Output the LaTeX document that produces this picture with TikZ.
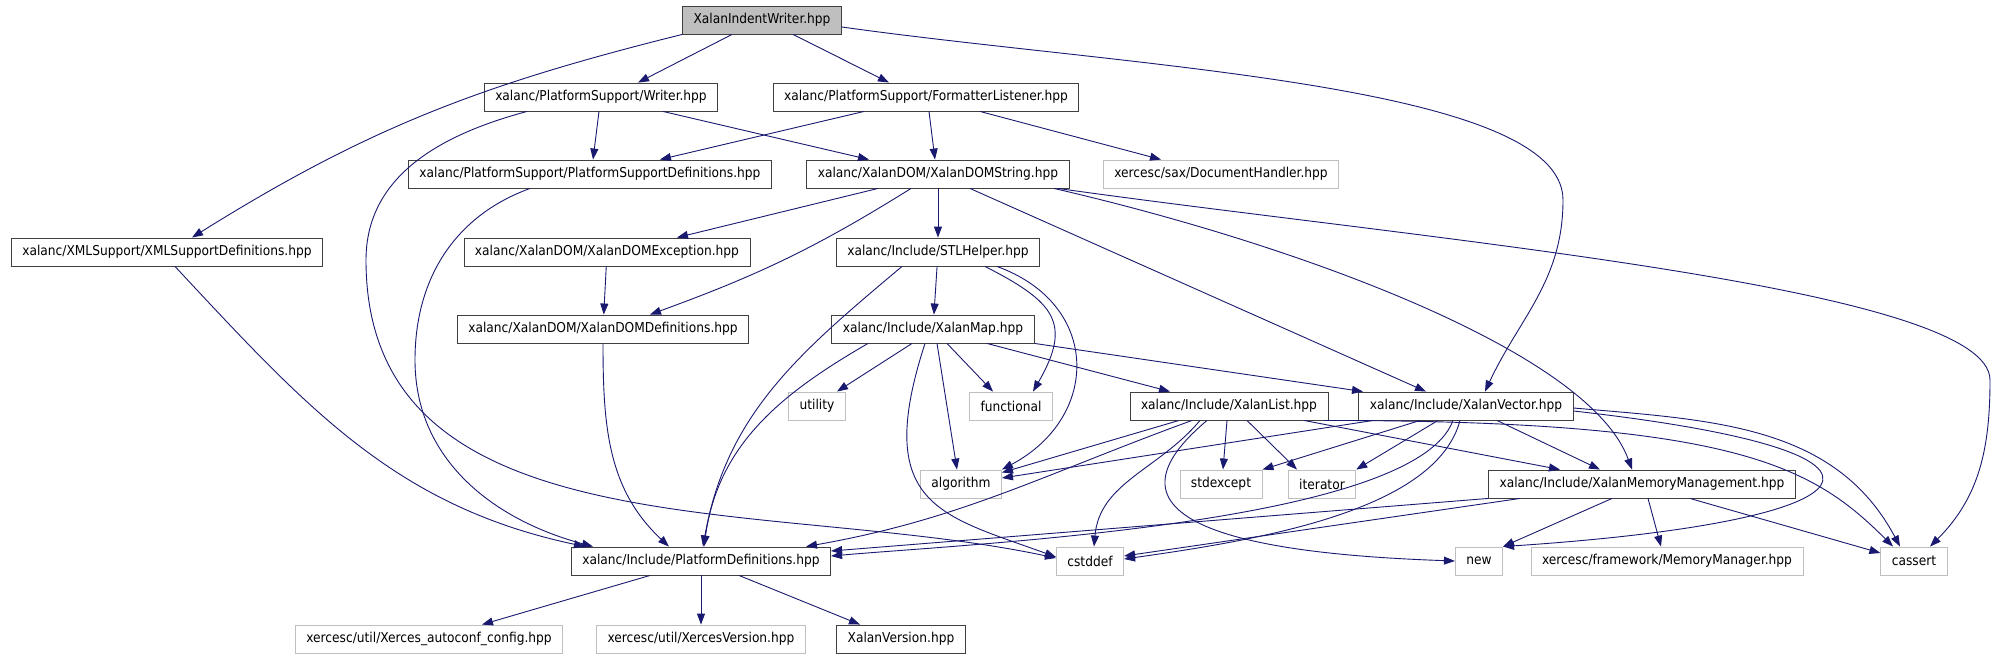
\documentclass[tikz,border=0pt]{standalone}
\usepackage{fontspec}
\setmainfont{DejaVu Sans Condensed}
\usepackage{xcolor}
\usepackage{tikz}
\usetikzlibrary{arrows.meta}
\definecolor{edgeblue}{HTML}{191970}
\definecolor{extgray}{HTML}{BFBFBF}
\definecolor{rootfill}{HTML}{BFBFBF}
\tikzset{
  filebox/.style={
    draw=black!75,
    line width=0.9pt,
    fill=white,
    font=\fontsize{13.6}{15}\selectfont,
    inner xsep=11pt,
    inner ysep=0pt,
    minimum height=28pt
  },
  extbox/.style={filebox, draw=extgray},
  rootbox/.style={filebox, fill=rootfill},
  incedge/.style={line width=0.9pt, draw=edgeblue, -{Triangle[length=11pt,width=8pt]}}
}

\begin{document}
\begin{tikzpicture}[x=1pt,y=-1pt]
\useasboundingbox (0,0) rectangle (1995,659);
\fill[white] (0,0) rectangle (1995,659);

\node[rootbox] (iw) at (762,20) {XalanIndentWriter.hpp};
\node[filebox] (writer) at (601,97) {xalanc/PlatformSupport/Writer.hpp};
\node[filebox] (fmtlisten) at (926,97) {xalanc/PlatformSupport/FormatterListener.hpp};
\node[filebox] (psdefs) at (590,174) {xalanc/PlatformSupport/PlatformSupportDefinitions.hpp};
\node[filebox] (domstring) at (938,174) {xalanc/XalanDOM/XalanDOMString.hpp};
\node[extbox] (dochandler) at (1221,174) {xercesc/sax/DocumentHandler.hpp};
\node[filebox] (xmlsdefs) at (167,252) {xalanc/XMLSupport/XMLSupportDefinitions.hpp};
\node[filebox] (domexcept) at (607,252) {xalanc/XalanDOM/XalanDOMException.hpp};
\node[filebox] (stlhelper) at (938,252) {xalanc/Include/STLHelper.hpp};
\node[filebox] (domdefs) at (603,329) {xalanc/XalanDOM/XalanDOMDefinitions.hpp};
\node[filebox] (xmap) at (933,329) {xalanc/Include/XalanMap.hpp};
\node[extbox] (utility) at (817,406) {utility};
\node[extbox] (functional) at (1011,406) {functional};
\node[filebox] (xlist) at (1229,406) {xalanc/Include/XalanList.hpp};
\node[filebox] (xvector) at (1466,406) {xalanc/Include/XalanVector.hpp};
\node[extbox] (algorithm) at (961,484) {algorithm};
\node[extbox] (stdexcept) at (1221,484) {stdexcept};
\node[extbox] (iterator) at (1322,484) {iterator};
\node[filebox] (memmgmt) at (1642,484) {xalanc/Include/XalanMemoryManagement.hpp};
\node[filebox] (platdefs) at (701,561) {xalanc/Include/PlatformDefinitions.hpp};
\node[extbox] (cstddef) at (1090,561) {cstddef};
\node[extbox] (newhdr) at (1479,561) {new};
\node[extbox] (memmanager) at (1667,561) {xercesc/framework/MemoryManager.hpp};
\node[extbox] (cassert) at (1914,561) {cassert};
\node[extbox] (autoconf) at (429,639) {xercesc/util/Xerces\_autoconf\_config.hpp};
\node[extbox] (xversion) at (701,639) {xercesc/util/XercesVersion.hpp};
\node[filebox] (xalanver) at (901,639) {XalanVersion.hpp};

\coordinate (ivturn) at (1563,200);
\coordinate (casturn) at (1990,380);
\coordinate (wbend) at (366,260);
\coordinate (psbend) at (415,360);

\draw[incedge] (iw.south west) to[out=194,in=32] ([xshift=25]xmlsdefs.north);
\draw[incedge] ([xshift=-30]iw.south) -- ([xshift=37]writer.north);
\draw[incedge] ([xshift=31]iw.south) -- ([xshift=-37]fmtlisten.north);
\draw[incedge] ([yshift=-7]iw.east) to[out=-8,in=90,in looseness=0.4] (ivturn) to[out=-90,in=65] ([xshift=19]xvector.north);

\draw[incedge] ([xshift=-2]writer.south) -- ([xshift=3]psdefs.north);
\draw[incedge] ([xshift=62]writer.south) -- ([xshift=-69]domstring.north);
\draw[incedge] ([xshift=-74]writer.south) to[out=195,in=90] (wbend) to[out=-90,in=168] ([yshift=3]cstddef.west);

\draw[incedge] ([xshift=-62]fmtlisten.south) -- ([xshift=70]psdefs.north);
\draw[incedge] ([xshift=3]fmtlisten.south) -- ([xshift=-3]domstring.north);
\draw[incedge] ([xshift=54]fmtlisten.south) -- ([xshift=-60]dochandler.north);

\draw[incedge] ([xshift=-60]psdefs.south) to[out=200,in=90] (psbend) to[out=-90,in=165] ([xshift=-108]platdefs.north);
\draw[incedge] ([xshift=8]xmlsdefs.south) to[out=-47,in=168] ([xshift=-116]platdefs.north);

\draw[incedge] ([xshift=-60]domstring.south) -- ([xshift=70]domexcept.north);
\draw[incedge] ([xshift=-27]domstring.south) to[out=-148,in=20] ([xshift=47]domdefs.north);
\draw[incedge] (domstring) -- (stlhelper);
\draw[incedge] ([xshift=32]domstring.south) -- ([xshift=-40]xvector.north);
\draw[incedge] ([xshift=116]domstring.south) to[out=-13,in=110,in looseness=0.5] ([xshift=-10]memmgmt.north);
\draw[incedge] ([xshift=120]domstring.south) to[out=-8,in=90,in looseness=0.25] (casturn) to[out=-90,in=45] ([xshift=16]cassert.north);

\draw[incedge] (domexcept) -- (domdefs);
\draw[incedge] (domdefs.south) to[out=-90,in=137] ([xshift=-32]platdefs.north);

\draw[incedge] (stlhelper) -- (xmap);
\draw[incedge] ([xshift=-36]stlhelper.south) to[out=-140,in=80] ([xshift=2]platdefs.north);
\draw[incedge] ([xshift=47]stlhelper.south) to[out=-27,in=60,looseness=1.5] ([xshift=22]functional.north);
\draw[incedge] ([xshift=59]stlhelper.south) to[out=-20,in=28,looseness=1.4] (algorithm.north east);

\draw[incedge] ([xshift=-65]xmap.south) to[out=-150,in=82] ([xshift=3]platdefs.north);
\draw[incedge] ([xshift=-21]xmap.south) -- ([xshift=20]utility.north);
\draw[incedge] ([xshift=14]xmap.south) -- ([xshift=-18]functional.north);
\draw[incedge] ([xshift=4]xmap.south) -- ([xshift=-4]algorithm.north);
\draw[incedge] ([xshift=-8]xmap.south) to[out=-108,in=160,out looseness=1.75,in looseness=1.25] ([yshift=4]cstddef.west);
\draw[incedge] ([xshift=54]xmap.south) -- ([xshift=-59]xlist.north);
\draw[incedge] (xmap.south east) -- ([xshift=-103]xvector.north);

\draw[incedge] ([xshift=-50]xlist.south) -- ([yshift=-3]algorithm.north east);
\draw[incedge] ([xshift=-37]xlist.south) to[out=-160,in=10] ([xshift=105]platdefs.north);
\draw[incedge] ([xshift=-29]xlist.south) to[out=-130,in=85] ([xshift=4]cstddef.north);
\draw[incedge] ([xshift=-22]xlist.south) to[out=-140,in=178,looseness=1.55] (newhdr.west);
\draw[incedge] ([xshift=-2]xlist.south) -- ([xshift=2]stdexcept.north);
\draw[incedge] ([xshift=18]xlist.south) -- ([xshift=-25]iterator.north);
\draw[incedge] ([xshift=75]xlist.south) -- ([xshift=-82]memmgmt.north);
\draw[incedge] ([xshift=95]xlist.south) to[out=0,in=135,out looseness=1.8,in looseness=0.5] ([xshift=-21]cassert.north);

\draw[incedge] ([xshift=-93]xvector.south) -- ([yshift=6]algorithm.east);
\draw[incedge] ([xshift=-46]xvector.south) -- (stdexcept.north east);
\draw[incedge] ([xshift=-28]xvector.south) -- (iterator.north east);
\draw[incedge] ([xshift=31]xvector.south) -- ([xshift=-42]memmgmt.north);
\draw[incedge] ([xshift=-13]xvector.south) to[out=-110,in=5,out looseness=0.44,in looseness=0.6] ([yshift=5]platdefs.east);
\draw[incedge] ([xshift=-6]xvector.south) to[out=-105,in=8,out looseness=0.65] ([yshift=2]cstddef.east);
\draw[incedge] ([yshift=-5]xvector.east) .. controls +(373,42) and +(377,-25) .. (newhdr.north east);
\draw[incedge] ([yshift=-2]xvector.east) to[out=-5,in=118] ([xshift=-14]cassert.north);

\draw[incedge] (memmgmt.south west) -- ([yshift=10]platdefs.east);
\draw[incedge] ([xshift=-122]memmgmt.south) -- ([yshift=5]cstddef.east);
\draw[incedge] ([xshift=-30]memmgmt.south) -- (newhdr.north east);
\draw[incedge] ([xshift=6]memmgmt.south) -- ([xshift=-6]memmanager.north);
\draw[incedge] ([xshift=48]memmgmt.south) -- ([yshift=8]cassert.west);

\draw[incedge] ([xshift=-51]platdefs.south) -- ([xshift=53]autoconf.north);
\draw[incedge] (platdefs) -- (xversion);
\draw[incedge] ([xshift=38]platdefs.south) -- ([xshift=-41]xalanver.north);

\end{tikzpicture}
\end{document}
